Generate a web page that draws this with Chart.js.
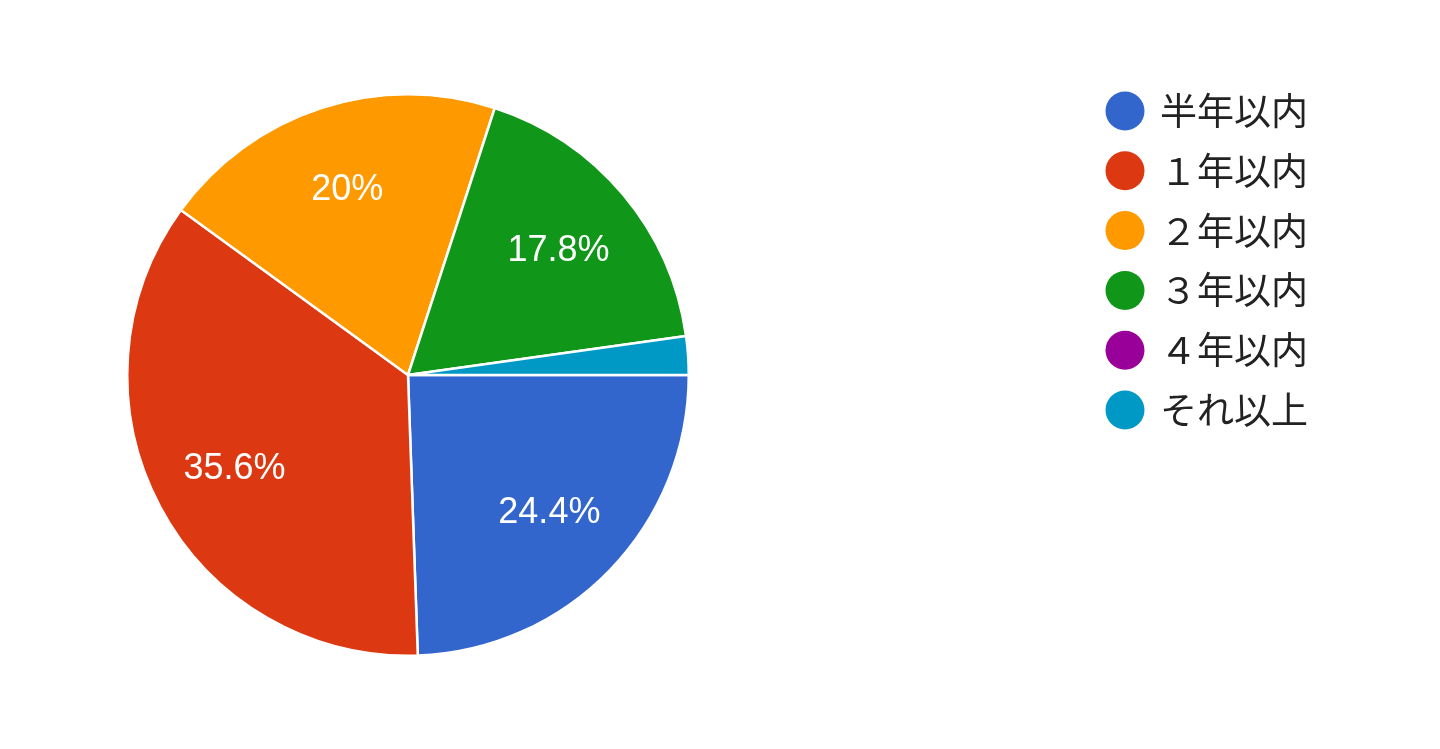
<!DOCTYPE html>
<html>
<head>
<meta charset="utf-8">
<script src="https://cdn.jsdelivr.net/npm/chart.js@4"></script>
<style>
  html, body { margin: 0; padding: 0; background: #fff; }
  #wrap { width: 1440px; height: 749px; position: relative; }
</style>
</head>
<body>
<div id="wrap"><canvas id="pie" width="1440" height="749"></canvas></div>
<script>
// Dữ liệu
const labels = ["半年以内", "１年以内", "２年以内", "３年以内", "４年以内", "それ以上"];
const counts = [11, 16, 9, 8, 0, 1];
const colors = ["#3366cc", "#dc3912", "#ff9900", "#109618", "#990099", "#0099c6"];

const total = counts.reduce((a, b) => a + b, 0);

// nhãn phần trăm trong lát bánh
const sliceLabels = {
  id: "sliceLabels",
  afterDatasetsDraw(chart) {
    const ctx = chart.ctx;
    const meta = chart.getDatasetMeta(0);
    ctx.save();
    ctx.fillStyle = "#ffffff";
    ctx.font = "36px 'Liberation Sans', Arial, sans-serif";
    ctx.textAlign = "center";
    ctx.textBaseline = "middle";
    meta.data.forEach((arc, i) => {
      const pct = Math.round(counts[i] / total * 1000) / 10;
      if (pct < 5) return;
      const mid = (arc.startAngle + arc.endAngle) / 2;
      const r = arc.outerRadius * 0.7;
      ctx.fillText(pct + "%", arc.x + Math.cos(mid) * r, arc.y + Math.sin(mid) * r + 2);
    });
    ctx.restore();
  }
};

// chú thích bên phải
const sideLegend = {
  id: "sideLegend",
  afterDraw(chart) {
    const ctx = chart.ctx;
    ctx.save();
    ctx.font = "37px 'Noto Sans CJK JP', sans-serif";
    ctx.textBaseline = "middle";
    ctx.textAlign = "left";
    labels.forEach((lab, i) => {
      const y = 111 + i * 59.8;
      ctx.beginPath();
      ctx.arc(1125, y, 19.5, 0, Math.PI * 2);
      ctx.fillStyle = colors[i];
      ctx.fill();
      ctx.fillStyle = "#222222";
      ctx.fillText(lab, 1160, y);
    });
    ctx.restore();
  }
};

new Chart(document.getElementById("pie"), {
  type: "pie",
  data: {
    labels: labels,
    datasets: [{
      data: counts,
      backgroundColor: colors,
      borderColor: "#ffffff",
      borderWidth: 2.5
    }]
  },
  options: {
    responsive: false,
    animation: false,
    rotation: 90,
    layout: { padding: { left: 126, right: 750, top: 93, bottom: 92 } },
    plugins: {
      legend: { display: false },
      tooltip: { enabled: false }
    },
    events: []
  },
  plugins: [sliceLabels, sideLegend]
});
</script>
</body>
</html>
